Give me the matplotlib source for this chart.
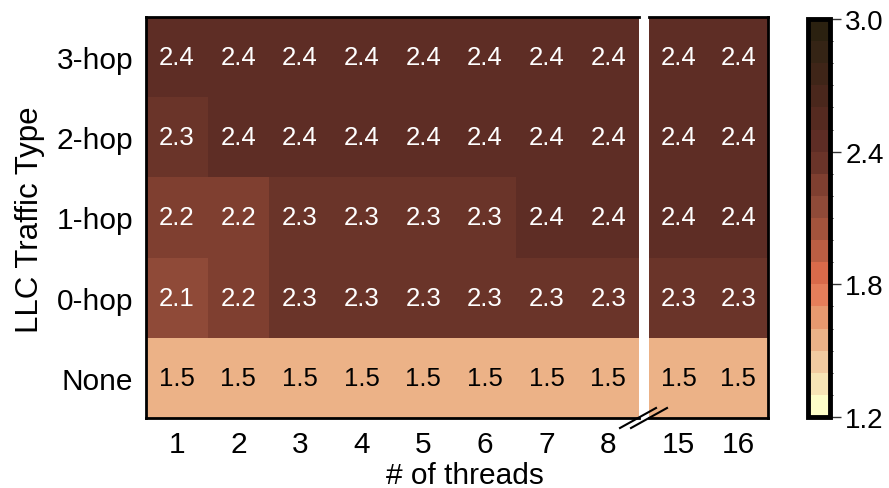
import numpy as np
import matplotlib
matplotlib.use("Agg")
import matplotlib.pyplot as plt
from matplotlib.colors import ListedColormap, BoundaryNorm
from matplotlib.lines import Line2D

plt.rcParams['font.family'] = ['Liberation Sans', 'DejaVu Sans']

# ---- data ----
threads = ["1", "2", "3", "4", "5", "6", "7", "8", "15", "16"]
traffic = ["None", "0-hop", "1-hop", "2-hop", "3-hop"]  # bottom -> top
none_vals = [1.53, 1.53, 1.53, 1.53, 1.53, 1.53, 1.53, 1.53, 1.53, 1.53]
hop0_vals = [2.14, 2.22, 2.32, 2.32, 2.32, 2.32, 2.33, 2.33, 2.33, 2.33]
hop1_vals = [2.22, 2.24, 2.31, 2.31, 2.32, 2.33, 2.42, 2.42, 2.42, 2.42]
hop2_vals = [2.34, 2.42, 2.42, 2.42, 2.42, 2.42, 2.42, 2.42, 2.42, 2.42]
hop3_vals = [2.42, 2.42, 2.42, 2.42, 2.42, 2.42, 2.42, 2.42, 2.42, 2.42]
cbar_ticks = [1.2, 1.8, 2.4, 3.0]

data = np.array([none_vals, hop0_vals, hop1_vals, hop2_vals, hop3_vals])

colors = ["#fdfdc8", "#f7e4b5", "#f2cba0", "#ecb287", "#e7996f", "#e57e5a",
          "#d96a4a", "#ba5e43", "#a3533c", "#8f4a38", "#7f3f30", "#6a3429",
          "#5e2d25", "#552a20", "#4a271c", "#3f2518", "#352415", "#2b2110"]
cmap = ListedColormap(colors)
bounds = np.linspace(1.2, 3.0, 19)
norm = BoundaryNorm(bounds, cmap.N)

W, H = 889, 489
fig = plt.figure(figsize=(W / 100, H / 100), dpi=100)

def fx(px):
    return px / W

def fy(py):
    return 1 - py / H

top, bot = 18, 419
ax1 = fig.add_axes([fx(146), fy(bot), fx(639) - fx(146), fy(top) - fy(bot)])
ax2 = fig.add_axes([fx(649), fy(bot), fx(768) - fx(649), fy(top) - fy(bot)])

nrow = len(traffic)
split = 8
parts = [(ax1, slice(0, split)), (ax2, slice(split, len(threads)))]
tfs = 21.5
afs = 18.5
mesh = None
for ax, sl in parts:
    sub = data[:, sl]
    ncol = sub.shape[1]
    mesh = ax.pcolormesh(np.arange(ncol + 1), np.arange(nrow + 1), sub,
                         cmap=cmap, norm=norm)
    for i in range(nrow):
        for j in range(ncol):
            v = sub[i, j]
            ax.text(j + 0.5, i + 0.5, f"{v:.1f}", ha="center", va="center",
                    fontsize=afs, color="white" if v > 1.9 else "black")
    ax.set_xlim(0, ncol)
    ax.set_ylim(0, nrow)
    ax.set_xticks(np.arange(ncol) + 0.5)
    ax.set_xticklabels(threads[sl], fontsize=tfs)
    ax.tick_params(axis="x", length=0, pad=9)
    ax.tick_params(axis="y", length=0, pad=9)
    for s in ax.spines.values():
        s.set_linewidth(2)
        s.set_color("black")

ax1.set_yticks(np.arange(nrow) + 0.5)
ax1.set_yticklabels(traffic, fontsize=tfs)
ax1.spines["right"].set_visible(False)
ax2.spines["left"].set_visible(False)
ax2.set_yticks([])
fig.text(fx(30), fy(220), "LLC Traffic Type", ha="center", va="center",
         rotation=90, fontsize=22.5)
fig.text(fx(465), fy(476), "# of threads", ha="center", va="center", fontsize=tfs)

# broken-axis marks
for dx in (0, 11):
    fig.add_artist(Line2D([fx(620 + dx), fx(656 + dx)], [fy(429), fy(409)],
                          color="black", lw=1.5, transform=fig.transFigure))

cax = fig.add_axes([fx(808), fy(418), fx(830) - fx(808), fy(20) - fy(418)])
cb = fig.colorbar(mesh, cax=cax, ticks=cbar_ticks, spacing="proportional")
cb.outline.set_linewidth(3.5)
cax.tick_params(labelsize=20, length=8, width=1, color="#333333", pad=3)
cax.set_yticklabels([f"{t:.1f}" for t in cbar_ticks])

fig.savefig("out.png", dpi=100)
